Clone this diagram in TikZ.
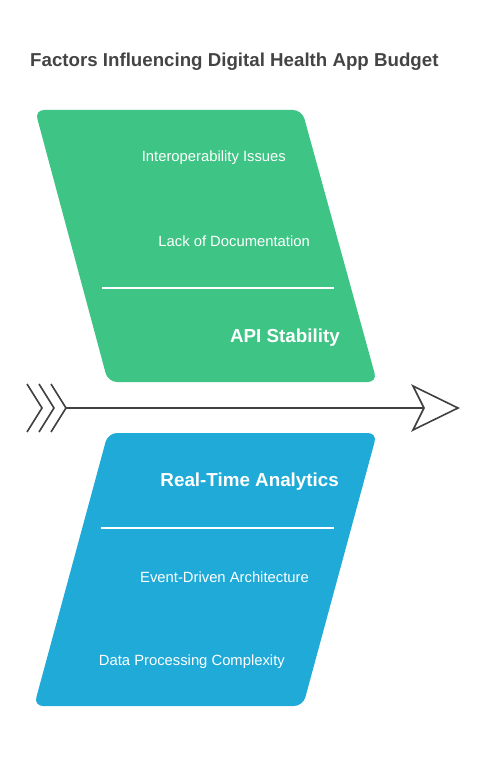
\documentclass[tikz,border=0pt]{standalone}
\usepackage{fontspec}
\setmainfont{Liberation Sans}
\definecolor{cgreen}{HTML}{3EC484}
\definecolor{cblue}{HTML}{1FAAD8}
\definecolor{ctitle}{HTML}{444444}
\definecolor{carrow}{HTML}{404040}
\begin{document}
\begin{tikzpicture}[x=1pt,y=-1pt,
  item/.style={anchor=east,text=white,font=\fontsize{14.8}{17}\selectfont,inner sep=0pt},
  head/.style={anchor=east,text=white,font=\bfseries\fontsize{18.8}{21}\selectfont,inner sep=0pt},
  sep/.style={draw=white,line width=1.2pt},
  arr/.style={draw=carrow,line width=1.6pt}]
\useasboundingbox (0,0) rectangle (482,757);
\node[anchor=west,text=ctitle,font=\bfseries\fontsize{18.7}{21}\selectfont,inner sep=0pt] (title) at (30,61.5) {Factors Influencing Digital Health App Budget};
% green box
\fill[cgreen,rounded corners=9pt] (35,110) -- (302,110) -- (377,382) -- (108,382) -- cycle;
\node[item] (g1) at (286,157.5) {Interoperability Issues};
\node[item] (g2) at (310,241.5) {Lack of Documentation};
\coordinate (gs1) at (102,288); \coordinate (gs2) at (334,288);
\draw[sep] (gs1) -- (gs2);
\node[head] (g3) at (340,337.5) {API Stability};
% blue box
\fill[cblue,rounded corners=9pt] (108,433) -- (377,433) -- (303,706) -- (34,706) -- cycle;
\node[head] (b1) at (339,481.5) {Real-Time Analytics};
\coordinate (bs1) at (101,528); \coordinate (bs2) at (334,528);
\draw[sep] (bs1) -- (bs2);
\node[item] (b2) at (309,577.5) {Event-Driven Architecture};
\node[item] (b3) at (285,661.5) {Data Processing Complexity};
% spine arrow
\coordinate (tail) at (66,408);
\coordinate (notch) at (424,408);
\draw[arr] (tail) -- (notch);
\draw[arr,fill=white,line join=miter] (413,386) -- (458,408) -- (413,430) -- (notch) -- cycle;
\foreach \x in {27,39,51} {
  \draw[arr] (\x,384) -- (\x+15,408) -- (\x,432);
}
\end{tikzpicture}
\end{document}
